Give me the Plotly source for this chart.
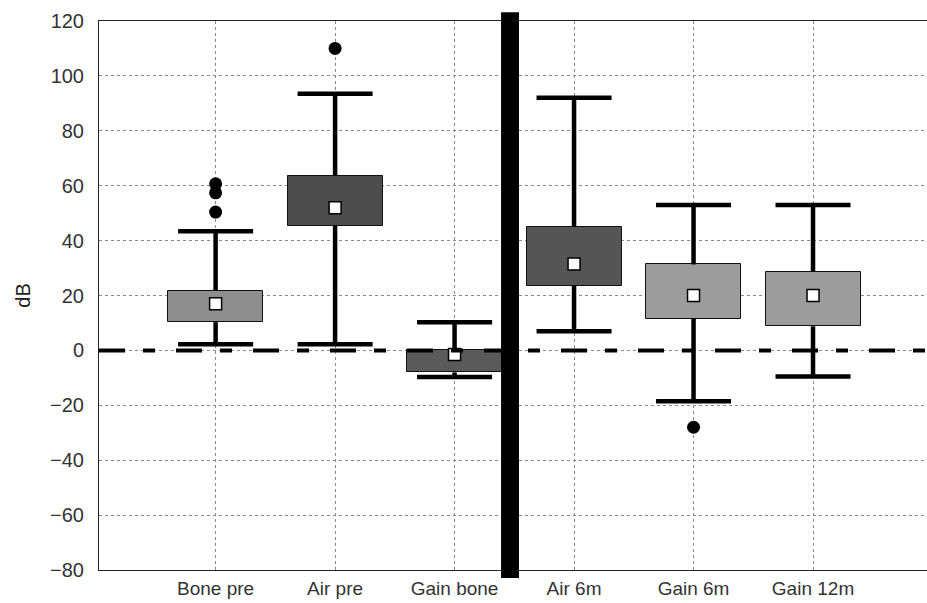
import plotly.graph_objects as go

# ---- data ----
categories = ["Bone pre", "Air pre", "Gain bone", "Air 6m", "Gain 6m", "Gain 12m"]
positions = [1, 2, 3, 4, 5, 6]
means = [17, 52, -1.5, 31.5, 20, 20]
box_low = [10.3, 45.4, -8.0, 23.6, 11.6, 8.8]
box_high = [21.8, 63.6, 0.3, 45.0, 31.3, 28.7]
whisk_low = [2.2, 2.2, -9.7, 7.0, -18.5, -9.5]
whisk_high = [43.4, 93.5, 10.3, 92.0, 53.0, 53.0]
outlier_cat = [1, 1, 1, 2, 5]
outlier_val = [60.7, 57.4, 50.4, 110, -28]
box_colors = ["#8e8e8e", "#4c4c4c", "#5a5a5a", "#555555", "#9c9c9c", "#9c9c9c"]
y_ticks = [-80, -60, -40, -20, 0, 20, 40, 60, 80, 100, 120]

FONT = "Liberation Sans, Arial, sans-serif"
CAP = 0.314
BOX_W = 0.795

fig = go.Figure()

# boxes
fig.add_trace(go.Bar(
    x=positions,
    y=[h - l for h, l in zip(box_high, box_low)],
    base=box_low,
    width=BOX_W,
    marker=dict(color=box_colors, line=dict(color="#111111", width=1)),
    hoverinfo="skip",
    showlegend=False,
))

# whiskers
wx, wy = [], []
for p, bl, bh, wl, wh in zip(positions, box_low, box_high, whisk_low, whisk_high):
    wx += [p, p, None, p - CAP, p + CAP, None, p, p, None, p - CAP, p + CAP, None]
    wy += [bh, wh, None, wh, wh, None, bl, wl, None, wl, wl, None]
fig.add_trace(go.Scatter(
    x=wx, y=wy, mode="lines",
    line=dict(color="#000000", width=4.5),
    hoverinfo="skip", showlegend=False,
))

# outliers
fig.add_trace(go.Scatter(
    x=outlier_cat, y=outlier_val, mode="markers",
    marker=dict(symbol="circle", size=13, color="#000000"),
    showlegend=False,
))

# means
fig.add_trace(go.Scatter(
    x=positions, y=means, mode="markers",
    marker=dict(symbol="square", size=12, color="#ffffff",
                line=dict(color="#000000", width=1.5)),
    showlegend=False,
))

# zero reference line
fig.add_shape(type="line", xref="paper", x0=0, x1=1, yref="y", y0=0, y1=0,
              line=dict(color="#000000", width=4, dash="26px,18px,12px,21px"),
              layer="above")

# thick vertical separator
fig.add_shape(type="rect", xref="x", x0=3.389, x1=3.539,
              yref="paper", y0=-0.0146, y1=1.016,
              fillcolor="#000000", line=dict(width=0), layer="above")

fig.update_layout(
    width=927, height=603,
    margin=dict(l=99, r=0, t=21, b=33, autoexpand=False),
    plot_bgcolor="#ffffff", paper_bgcolor="#ffffff",
    font=dict(family=FONT, size=20, color="#333333"),
    showlegend=False,
    bargap=0,
    xaxis=dict(
        range=[0.024, 6.954],
        tickvals=positions, ticktext=categories,
        showgrid=True, gridcolor="#8a8a8a", gridwidth=1, griddash="dot",
        showline=True, linecolor="#222222", linewidth=1, mirror=True,
        ticks="", ticklabelstandoff=1,
        zeroline=False, automargin=False,
        tickfont=dict(family=FONT, size=19, color="#333333"),
    ),
    yaxis=dict(
        range=[-80, 120],
        tickvals=y_ticks,
        showgrid=True, gridcolor="#8a8a8a", gridwidth=1, griddash="dot",
        showline=True, linecolor="#222222", linewidth=1,
        ticks="", ticklabelstandoff=10,
        zeroline=False, automargin=False,
        tickfont=dict(family=FONT, size=20, color="#333333"),
        title=dict(text="dB", font=dict(family=FONT, size=20, color="#222222"), standoff=14),
    ),
)

fig.write_html(
    "out.html",
    config={"displayModeBar": False},
    post_script="document.body.style.margin='0';document.body.style.overflow='hidden';",
)
